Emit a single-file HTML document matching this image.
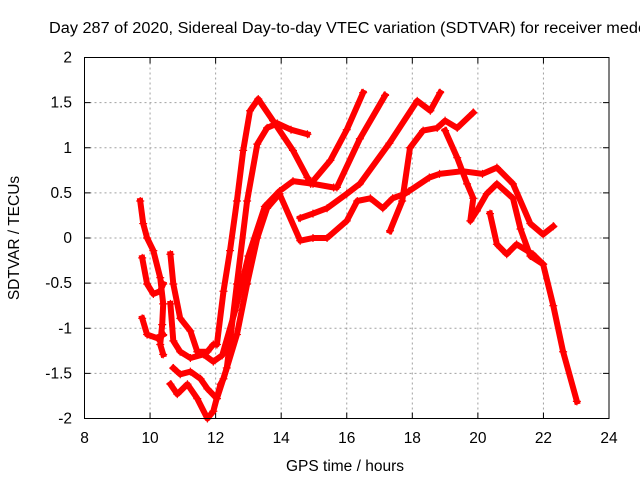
<!DOCTYPE html>
<html><head><meta charset="utf-8"><style>
html,body{margin:0;padding:0;background:#fff;overflow:hidden;}
svg{display:block;font-family:"Liberation Sans",sans-serif;}
</style></head><body>
<svg id="chart" width="640" height="480" viewBox="0 0 640 480" xmlns="http://www.w3.org/2000/svg">
<text x="49" y="33" font-size="15.5" fill="#000" textLength="598" lengthAdjust="spacingAndGlyphs">Day 287 of 2020, Sidereal Day-to-day VTEC variation (SDTVAR) for receiver medo</text>
<text x="0" y="0" font-size="15.5" fill="#000" text-anchor="middle" transform="translate(19,238) rotate(-90)">SDTVAR / TECUs</text>
<text x="345" y="471" font-size="15.5" fill="#000" text-anchor="middle">GPS time / hours</text>
<g id="grid"></g>
<g id="ticks"></g>
<g id="marks"></g>
<rect x="84.5" y="57.5" width="524.5" height="361" fill="none" stroke="#000" stroke-width="1"/>
</svg>
<script>
const xTicks=[8,10,12,14,16,18,20,22,24];
const yTicks=[-2,-1.5,-1,-0.5,0,0.5,1,1.5,2];
const yTickLabels=["-2","-1.5","-1","-0.5","0","0.5","1","1.5","2"];
const trEarlyA=[[9.7,0.41],[9.79,0.16],[9.91,0.0],[10.1,-0.14],[10.31,-0.44],[10.4,-0.73],[10.37,-0.96],[10.31,-1.18],[10.4,-1.29]];
const trEarlyB=[[9.76,-0.22],[9.91,-0.51],[10.1,-0.62],[10.31,-0.59],[10.4,-0.51]];
const trEarlyC=[[9.76,-0.89],[9.91,-1.07],[10.22,-1.11],[10.4,-1.07]];
const trP=[[10.62,-0.18],[10.71,-0.51],[10.92,-0.89],[11.23,-1.03],[11.44,-1.26],[11.75,-1.26],[11.93,-1.18],[12.04,-1.18],[12.24,-0.59],[12.44,-0.14],[12.65,0.41],[12.84,0.97],[13.05,1.41],[13.3,1.54],[13.75,1.3],[14.36,0.97],[14.8,0.67],[14.9,0.6],[15.5,0.86],[16.0,1.2],[16.5,1.61]];
const trQ=[[10.71,-1.44],[10.92,-1.51],[11.23,-1.48],[11.54,-1.56],[11.75,-1.67],[12.04,-1.78],[12.34,-1.44],[12.65,-0.51],[12.96,0.41],[13.27,1.04],[13.57,1.22],[13.88,1.27],[14.3,1.2],[14.8,1.15]];
const trR=[[10.62,-1.62],[10.83,-1.73],[11.14,-1.62],[11.44,-1.78],[11.75,-2.0],[11.93,-1.92],[12.15,-1.62],[12.24,-1.56],[12.65,-1.07],[12.96,-0.51],[13.27,0.0],[13.57,0.33],[13.95,0.49],[14.58,-0.03],[14.97,0.0],[15.4,0.0],[16.0,0.19],[16.32,0.41],[16.72,0.44],[17.1,0.33],[17.4,0.44],[17.77,0.49],[17.9,0.52],[18.52,0.67],[18.83,0.71],[19.53,0.74],[20.14,0.71],[20.58,0.78],[21.07,0.6],[21.6,0.16],[21.99,0.04],[22.3,0.13]];
const trS=[[10.62,-0.73],[10.71,-1.14],[10.92,-1.26],[11.23,-1.33],[11.63,-1.29],[11.93,-1.37],[12.2,-1.3],[12.6,-0.8],[13.0,-0.2],[13.5,0.35],[13.95,0.52],[14.36,0.63],[14.97,0.6],[15.6,0.56],[15.7,0.56],[16.4,1.1],[17.17,1.58]];
const trT=[[14.58,0.22],[14.97,0.27],[15.4,0.33],[16.0,0.49],[16.4,0.6],[17.3,1.05],[18.15,1.52],[18.55,1.41],[18.85,1.61]];
const trU=[[17.32,0.08],[17.69,0.41],[17.93,1.0],[18.33,1.19],[18.76,1.22],[19.0,1.3],[19.37,1.22],[19.86,1.39]];
const trV=[[19.0,1.19],[19.37,0.89],[19.67,0.6],[19.86,0.44],[19.77,0.19],[19.97,0.3],[20.27,0.49],[20.58,0.6],[21.07,0.44],[21.3,0.1],[21.6,-0.2],[21.99,-0.29],[22.3,-0.75],[22.6,-1.26],[23.02,-1.81]];
const trW=[[20.37,0.27],[20.58,-0.07],[20.88,-0.18],[21.18,-0.07],[21.68,-0.18],[21.99,-0.29]];
const series=[trEarlyA,trEarlyB,trEarlyC,trP,trQ,trR,trS,trT,trU,trV,trW];

const X0=84.5,X1=609,Y0=418.5,Y1=57.5;
function sx(v){return X0+(v-8)/16*(X1-X0);}
function sy(v){return Y0-(v+2)/4*(Y0-Y1);}
const NS="http://www.w3.org/2000/svg";
const grid=document.getElementById('grid'),ticks=document.getElementById('ticks'),marks=document.getElementById('marks');
function mk(tag,attrs,parent){const e=document.createElementNS(NS,tag);for(const k in attrs)e.setAttribute(k,attrs[k]);parent.appendChild(e);return e;}
xTicks.forEach(function(t){
  const x=sx(t);
  if(t>8&&t<24){const g=mk('line',{x1:x,x2:x,y1:Y1,y2:Y0,stroke:'#a0a0a0','stroke-dasharray':'2,3'},grid);
  
  }
  const a=mk('line',{x1:x,x2:x,y1:Y0,y2:Y0-6,stroke:'#000'},ticks);
  
  
  const b=mk('line',{x1:x,x2:x,y1:Y1,y2:Y1+6,stroke:'#000'},ticks);
  
  
  const l=mk('text',{x:x,y:443,'font-size':15.5,'text-anchor':'middle',fill:'#000'},ticks);
  l.textContent=String(t);
  
  
});
yTicks.forEach(function(t,i){
  const y=sy(t);
  if(t>-2&&t<2){const g=mk('line',{x1:X0,x2:X1,y1:y,y2:y,stroke:'#a0a0a0','stroke-dasharray':'2,3'},grid);
  
  }
  const a=mk('line',{x1:X0,x2:X0+6,y1:y,y2:y,stroke:'#000'},ticks);
  
  
  const b=mk('line',{x1:X1,x2:X1-6,y1:y,y2:y,stroke:'#000'},ticks);
  
  
  const l=mk('text',{x:72,y:y+5,'font-size':15.5,'text-anchor':'end',fill:'#000'},ticks);
  l.textContent=yTickLabels[i];
  
  
});
series.forEach(function(s){
  const pts=s.map(function(p){return sx(p[0]).toFixed(1)+','+sy(p[1]).toFixed(1);}).join(' ');
  const pl=mk('polyline',{points:pts,fill:'none',stroke:'#ff0000','stroke-width':6,'stroke-linejoin':'round','stroke-linecap':'square'},marks);
  
  
  s.forEach(function(p){
    const x=sx(p[0]),y=sy(p[1]);
    const m=mk('path',{d:'M'+(x-4)+','+y+'h8M'+x+','+(y-4)+'v8',stroke:'#ff0000','stroke-width':1.2},marks);
    
    
  });
});
</script>
</body></html>
